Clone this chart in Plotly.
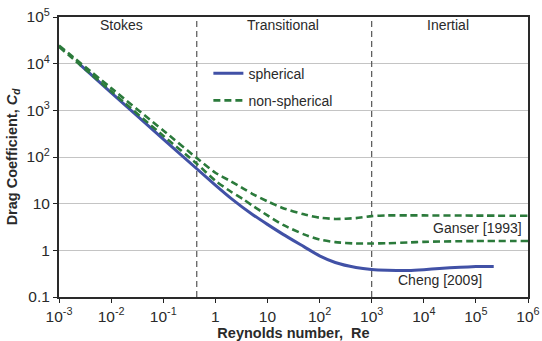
import plotly.graph_objects as go

# ---- data ----
re_sph = [0.0025, 0.01, 0.1, 0.44, 1, 2, 5, 10, 20, 50, 100, 200, 500,
          1000, 2000, 5000, 1e4, 2e4, 5e4, 1e5, 2.2e5]
cd_sph = [9600, 2400, 243, 56, 25, 13, 6.0, 3.6, 2.2, 1.2, 0.76, 0.55, 0.43,
          0.39, 0.375, 0.37, 0.385, 0.41, 0.435, 0.448, 0.452]

re_ns = [0.001, 0.01, 0.1, 0.44, 1, 2, 3.45, 5, 10, 20, 50, 100, 200, 500,
         1000, 2000, 5000, 1e4, 1e5, 1e6]
cd_ns_high = [24500, 3000, 370, 95, 46, 30, 21, 16.5, 11.2, 8.0, 5.9, 5.0, 4.7, 4.9,
              5.4, 5.6, 5.6, 5.6, 5.55, 5.5]
cd_ns_low = [23000, 2550, 285, 72, 31, 18, 12.4, 9.3, 5.6, 3.5, 2.2, 1.7, 1.5, 1.4,
             1.4, 1.42, 1.47, 1.52, 1.58, 1.58]

regime_bounds = [0.44, 1000]
regime_names = ["Stokes", "Transitional", "Inertial"]
regime_label_logx = [-1.8, 1.3, 4.47]

x_tickvals = [1e-3, 1e-2, 1e-1, 1, 10, 1e2, 1e3, 1e4, 1e5, 1e6]
x_ticktext = ["10<sup>-3</sup>", "10<sup>-2</sup>", "10<sup>-1</sup>", "1", "10",
              "10<sup>2</sup>", "10<sup>3</sup>", "10<sup>4</sup>", "10<sup>5</sup>",
              "10<sup>6</sup>"]
y_tickvals = [0.1, 1, 10, 1e2, 1e3, 1e4, 1e5]
y_ticktext = ["0.1", "1", "10", "10<sup>2</sup>", "10<sup>3</sup>", "10<sup>4</sup>",
              "10<sup>5</sup>"]

BLUE = "#4151a6"
GREEN = "#2b7a3b"
TXT = "#2a2a2a"
FONT = "Liberation Sans, Arial, sans-serif"

fig = go.Figure()

# regime dividers
for b in regime_bounds:
    fig.add_trace(go.Scatter(x=[b, b], y=[0.1, 1e5], mode="lines",
                             line=dict(color="#555555", width=1.2, dash="6px,4px"),
                             showlegend=False, hoverinfo="skip"))

fig.add_trace(go.Scatter(x=re_sph, y=cd_sph, mode="lines", name="spherical",
                         line=dict(color=BLUE, width=3, shape="spline", smoothing=0.6),
                         legendgroup="a"))
fig.add_trace(go.Scatter(x=re_ns, y=cd_ns_high, mode="lines", name="non-spherical",
                         line=dict(color=GREEN, width=2.6, dash="7px,4px",
                                   shape="spline", smoothing=0.6),
                         legendgroup="b"))
fig.add_trace(go.Scatter(x=re_ns, y=cd_ns_low, mode="lines", name="non-spherical",
                         line=dict(color=GREEN, width=2.6, dash="7px,4px",
                                   shape="spline", smoothing=0.6),
                         legendgroup="b", showlegend=False))

for name, lx in zip(regime_names, regime_label_logx):
    fig.add_annotation(x=lx, y=0.97, xref="x", yref="paper", text=name,
                       showarrow=False, font=dict(size=14, color=TXT, family=FONT),
                       xanchor="center", yanchor="middle")

fig.add_annotation(x=5.925, y=0.477, xref="x", yref="y", text="Ganser [1993]",
                   showarrow=False, xanchor="right", yanchor="middle",
                   font=dict(size=14, color=TXT, family=FONT))
fig.add_annotation(x=4.31, y=-0.64, xref="x", yref="y", text="Cheng [2009]",
                   showarrow=False, xanchor="center", yanchor="middle",
                   font=dict(size=14, color=TXT, family=FONT))

fig.update_layout(
    width=542, height=341,
    margin=dict(l=59, r=14, t=17, b=44),
    paper_bgcolor="white", plot_bgcolor="white",
    font=dict(family=FONT, size=14, color=TXT),
    showlegend=True,
    legend=dict(x=0.3185, y=0.855, xanchor="left", yanchor="top",
                bgcolor="rgba(0,0,0,0)", font=dict(size=14, color=TXT),
                traceorder="grouped", tracegroupgap=6),
)
fig.update_xaxes(type="log", range=[-3, 6], tickvals=x_tickvals, ticktext=x_ticktext,
                 automargin=False,
                 ticks="outside", ticklen=4, tickcolor="#222", showgrid=False,
                 showline=True, linecolor="#2a2a2a", linewidth=2, mirror=True,
                 tickfont=dict(size=15.5, color=TXT),
                 title=dict(text="<b>Reynolds number,  Re</b>", standoff=4,
                            font=dict(size=14.5, color=TXT)))
fig.update_yaxes(type="log", range=[-1, 5], tickvals=y_tickvals, ticktext=y_ticktext,
                 automargin=False,
                 ticks="outside", ticklen=4, tickcolor="#222", showgrid=True,
                 gridcolor="#c4c4c4", gridwidth=1,
                 showline=True, linecolor="#2a2a2a", linewidth=2, mirror=True,
                 tickfont=dict(size=15.5, color=TXT),
                 title=dict(text="<b>Drag Coefficient, <i>C<sub>d</sub></i></b>", standoff=6,
                            font=dict(size=14.5, color=TXT)))

fig.write_html("out.html",
               config={"displayModeBar": False},
               post_script="document.body.style.margin='0px';"
                           "document.body.style.overflow='hidden';")
